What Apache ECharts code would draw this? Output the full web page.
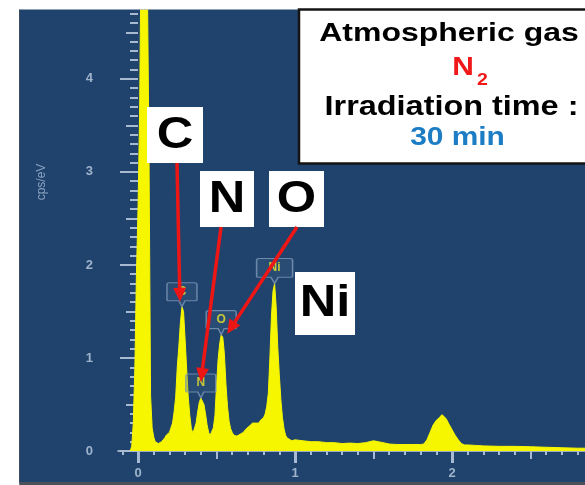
<!DOCTYPE html>
<html>
<head>
<meta charset="utf-8">
<script src="https://cdn.jsdelivr.net/npm/echarts@6/dist/echarts.min.js"></script>
<style>
  html, body { margin: 0; padding: 0; background: #ffffff; }
  #main { width: 585px; height: 485px; }
</style>
</head>
<body>
<div id="main"></div>
<script>
// EDS spectrum: energy (keV) and intensity (cps/eV)
const energies = [
  -0.05, -0.04, -0.03, -0.02, -0.01, 0.00, 0.01, 0.02, 0.03, 0.04,
  0.05, 0.06, 0.07, 0.08, 0.09, 0.10, 0.11, 0.12, 0.13, 0.14,
  0.15, 0.16, 0.17, 0.18, 0.19, 0.20, 0.21, 0.22, 0.23, 0.24,
  0.25, 0.26, 0.27, 0.28, 0.29, 0.30, 0.31, 0.32, 0.33, 0.34,
  0.35, 0.36, 0.37, 0.38, 0.39, 0.40, 0.41, 0.42, 0.43, 0.44,
  0.45, 0.46, 0.47, 0.48, 0.49, 0.50, 0.51, 0.52, 0.53, 0.54,
  0.55, 0.56, 0.57, 0.58, 0.59, 0.60, 0.61, 0.62, 0.63, 0.64,
  0.65, 0.66, 0.67, 0.68, 0.69, 0.70, 0.71, 0.72, 0.73, 0.74,
  0.75, 0.76, 0.77, 0.78, 0.79, 0.80, 0.81, 0.82, 0.83, 0.84,
  0.85, 0.86, 0.87, 0.88, 0.89, 0.90, 0.91, 0.92, 0.93, 0.94,
  0.95, 0.96, 0.98, 1.00, 1.05, 1.10, 1.15, 1.20, 1.25, 1.30,
  1.35, 1.40, 1.45, 1.50, 1.53, 1.56, 1.60, 1.65, 1.70, 1.75,
  1.80, 1.82, 1.84, 1.86, 1.88, 1.90, 1.92, 1.935, 1.95, 1.965,
  1.98, 2.00, 2.02, 2.04, 2.06, 2.08, 2.10, 2.15, 2.20, 2.30,
  2.40, 2.50, 2.60, 2.70, 2.80, 2.85
];
const counts = [
  0.00, 0.05, 0.30, 0.90, 1.90, 2.60, 3.60, 5.50, 6.50, 6.50,
  6.00, 5.00, 3.20, 0.60, 0.25, 0.15, 0.10, 0.08, 0.08, 0.09,
  0.10, 0.12, 0.14, 0.17, 0.19, 0.20, 0.22, 0.30, 0.42, 0.58,
  0.90, 1.12, 1.38, 1.55, 1.50, 1.20, 0.88, 0.58, 0.38, 0.24,
  0.19, 0.21, 0.30, 0.42, 0.52, 0.57, 0.56, 0.50, 0.40, 0.28,
  0.20, 0.17, 0.19, 0.25, 0.38, 0.70, 0.98, 1.15, 1.25, 1.22,
  1.05, 0.72, 0.48, 0.32, 0.24, 0.20, 0.17, 0.16, 0.16, 0.17,
  0.18, 0.19, 0.20, 0.22, 0.24, 0.25, 0.27, 0.29, 0.30, 0.31,
  0.30, 0.32, 0.30, 0.33, 0.34, 0.36, 0.40, 0.48, 0.62, 1.00,
  1.45, 1.72, 1.80, 1.55, 1.12, 0.82, 0.55, 0.36, 0.24, 0.17,
  0.14, 0.12, 0.11, 0.12, 0.11, 0.10, 0.10, 0.09, 0.09, 0.08,
  0.085, 0.08, 0.09, 0.11, 0.10, 0.09, 0.075, 0.07, 0.07, 0.07,
  0.07, 0.075, 0.12, 0.20, 0.28, 0.33, 0.36, 0.39, 0.37, 0.34,
  0.29, 0.23, 0.17, 0.12, 0.08, 0.065, 0.065, 0.06, 0.055, 0.05,
  0.05, 0.046, 0.04, 0.035, 0.03, 0.03
];

// Axis tick labels
const xTickLabels = [0, 1, 2];
const yTickLabels = [0, 1, 2, 3, 4];
const yAxisTitle = 'cps/eV';

// Identified peaks
const peakElements = ['C', 'N', 'O', 'Ni'];
const peakEnergies = [0.28, 0.40, 0.53, 0.87];

// Condition box text
const gasTitle = 'Atmospheric gas';
const gasName = 'N';
const gasSub = '2';
const timeTitle = 'Irradiation time :';
const timeValue = '30 min';

// ---- axis ranges ----
const X_MIN = -0.1274, X_MAX = 2.847;
const Y_MIN = 0, Y_MAX = 4.74;

// tick positions between the labelled ones
const xHalf = [], xMinor = [];
for (let i = -1; i <= 28; i++) {
  const v = i / 10;
  if (i % 10 === 0) continue;
  if (i % 5 === 0) xHalf.push(v); else xMinor.push(v);
}
const yHalf = [], yMinor = [];
for (let i = 1; i <= 47; i++) {
  const v = i / 10;
  if (i % 10 === 0) continue;
  if (i % 5 === 0) yHalf.push(v); else yMinor.push(v);
}

const PANEL = '#1f436d';
const TICK = '#a8bad1';
const LABEL = '#9fb3cb';
const YELLOW = '#f6f600';
const RED = '#ee1515';
const FONT = '"Liberation Sans", Arial, sans-serif';

const spectrum = energies.map((e, i) => [e, counts[i]]);
const peakHeights = peakEnergies.map(e => counts[energies.indexOf(e)]);

function xAxisOf(values, len, width, withLabels) {
  return {
    type: 'value', min: X_MIN, max: X_MAX, position: 'bottom', gridIndex: 0,
    axisLine: { show: withLabels, onZero: false, lineStyle: { color: '#c3cfdd', width: 1.5 } },
    axisTick: { show: true, customValues: values, length: len, lineStyle: { color: TICK, width: width } },
    axisLabel: withLabels ? {
      customValues: values, margin: 16, color: LABEL, fontSize: 13, fontWeight: 'bold', fontFamily: FONT
    } : { show: false },
    splitLine: { show: false }
  };
}
function yAxisOf(values, len, width, withLabels) {
  return {
    type: 'value', min: Y_MIN, max: Y_MAX, position: 'left', gridIndex: 0,
    axisLine: { show: false },
    axisTick: { show: true, customValues: values, length: len, lineStyle: { color: TICK, width: width } },
    axisLabel: withLabels ? {
      customValues: values, margin: 25, color: LABEL, fontSize: 13, fontWeight: 'bold', fontFamily: FONT
    } : { show: false },
    splitLine: { show: false }
  };
}

// pentagon tag drawn above each identified peak
const TAG = 'path://M2,0 H28 Q30,0 30,2 V17 Q30,18 29,18 H18 L15,24 L12,18 H1 Q0,18 0,17 V2 Q0,0 2,0 Z';

const chart = echarts.init(document.getElementById('main'), null, { renderer: 'canvas' });

const callouts = [
  { text: 'C',  box: [147, 107, 56, 56], from: [177, 163], tip: [-2, -5] },
  { text: 'N',  box: [200, 171, 54, 56], from: [221, 227], tip: [0, -16] },
  { text: 'O',  box: [269, 171, 55, 56], from: [297, 227], tip: [6, -1] },
  { text: 'Ni', box: [295, 272, 60, 63], from: null, tip: null }
];

function boxText(text, x, y, font, fill, stretch) {
  return {
    type: 'text', z: 101, x: x, y: y, scaleX: stretch,
    style: { text: text, fill: fill, font: font, align: 'center', verticalAlign: 'middle' }
  };
}

const staticGraphics = [
  { type: 'rect', z: 50, shape: { x: 0, y: 0, width: 19.5, height: 485 }, style: { fill: '#ffffff' } },
  { type: 'rect', z: 50, shape: { x: 0, y: 0, width: 585, height: 9.5 }, style: { fill: '#ffffff' } },
  { type: 'rect', z: 50, shape: { x: 19.5, y: 482, width: 566, height: 3 }, style: { fill: '#4d5058' } },
  { type: 'rect', z: 50, shape: { x: 19, y: 9.5, width: 1.2, height: 473 }, style: { fill: '#3a4a60' } },
  {
    type: 'text', z: 50, x: 42, y: 182, rotation: Math.PI / 2,
    style: { text: yAxisTitle, fill: '#8ca3c0', font: '12px ' + FONT, align: 'center', verticalAlign: 'middle' }
  },
  // condition box
  {
    type: 'rect', z: 100, shape: { x: 299, y: 9.5, width: 300, height: 154 },
    style: { fill: '#ffffff', stroke: '#141414', lineWidth: 2.5 }
  },
  boxText(gasTitle, 449, 34, 'bold 26px ' + FONT, '#000', 1.23),
  boxText(gasName, 463, 68, 'bold 26px ' + FONT, '#f01818', 1.15),
  boxText(gasSub, 482.5, 80, 'bold 17px ' + FONT, '#f01818', 1.15),
  boxText(timeTitle, 451.5, 107.5, 'bold 27px ' + FONT, '#000', 1.2),
  boxText(timeValue, 457.5, 138, 'bold 26px ' + FONT, '#1c7cc4', 1.15)
];

callouts.forEach(c => {
  const [bx, by, bw, bh] = c.box;
  staticGraphics.push({ type: 'rect', z: 100, shape: { x: bx, y: by, width: bw, height: bh }, style: { fill: '#ffffff' } });
  staticGraphics.push(boxText(c.text, bx + bw / 2, by + bh / 2 + 0.5, 'bold 44px ' + FONT, '#000', 1.15));
});

chart.setOption({
  animation: false,
  backgroundColor: PANEL,
  grid: { left: 118, right: 0, top: 10, bottom: 34, containLabel: false },
  xAxis: [
    xAxisOf(xTickLabels, 12, 3, true),
    xAxisOf(xHalf, 8, 2, false),
    xAxisOf(xMinor, 4, 2, false)
  ],
  yAxis: [
    yAxisOf(yTickLabels, 18, 2, true),
    yAxisOf(yHalf, 12, 2, false),
    yAxisOf(yMinor, 8, 2, false)
  ],
  series: [
    {
      type: 'line', xAxisIndex: 0, yAxisIndex: 0, data: spectrum,
      symbol: 'none', clip: true, z: 2,
      lineStyle: { color: YELLOW, width: 1 },
      areaStyle: { color: YELLOW, opacity: 1 }
    },
    {
      type: 'scatter', xAxisIndex: 0, yAxisIndex: 0, z: 5,
      symbol: TAG,
      symbolSize: [30, 24],
      symbolOffset: [0, '-50%'],
      itemStyle: { color: 'rgba(70,100,140,0.35)', borderColor: '#7f98b8', borderWidth: 1.3 },
      label: {
        show: true, position: 'inside', offset: [0, -3], formatter: '{b}',
        color: '#ece62a', fontSize: 12, fontWeight: 'bold', fontFamily: FONT
      },
      data: peakElements.map((el, i) => ({
        name: el, value: [peakEnergies[i], peakHeights[i]],
        symbolSize: el === 'Ni' ? [36, 25] : [30, 24]
      }))
    }
  ],
  graphic: { elements: staticGraphics }
});

// red arrows from each callout box to the tag on its peak
const RED_W = 3.5;
function arrow(x1, y1, x2, y2) {
  const dx = x2 - x1, dy = y2 - y1, L = Math.hypot(dx, dy);
  const ux = dx / L, uy = dy / L, hl = 14, hw = 6.5;
  const bx = x2 - ux * hl, by = y2 - uy * hl;
  return [
    { type: 'line', z: 102, shape: { x1: x1, y1: y1, x2: bx + ux * 2, y2: by + uy * 2 },
      style: { stroke: RED, lineWidth: RED_W } },
    { type: 'polygon', z: 102,
      shape: { points: [[x2, y2], [bx - uy * hw, by + ux * hw], [bx + uy * hw, by - ux * hw]] },
      style: { fill: RED } }
  ];
}
const arrowGraphics = [];
callouts.forEach((c, i) => {
  if (!c.from) return;
  const p = chart.convertToPixel({ xAxisIndex: 0, yAxisIndex: 0 }, [peakEnergies[i], peakHeights[i]]);
  arrowGraphics.push(...arrow(c.from[0], c.from[1], p[0] + c.tip[0], p[1] + c.tip[1]));
});
chart.setOption({ graphic: { elements: staticGraphics.concat(arrowGraphics) } });
</script>
</body>
</html>
